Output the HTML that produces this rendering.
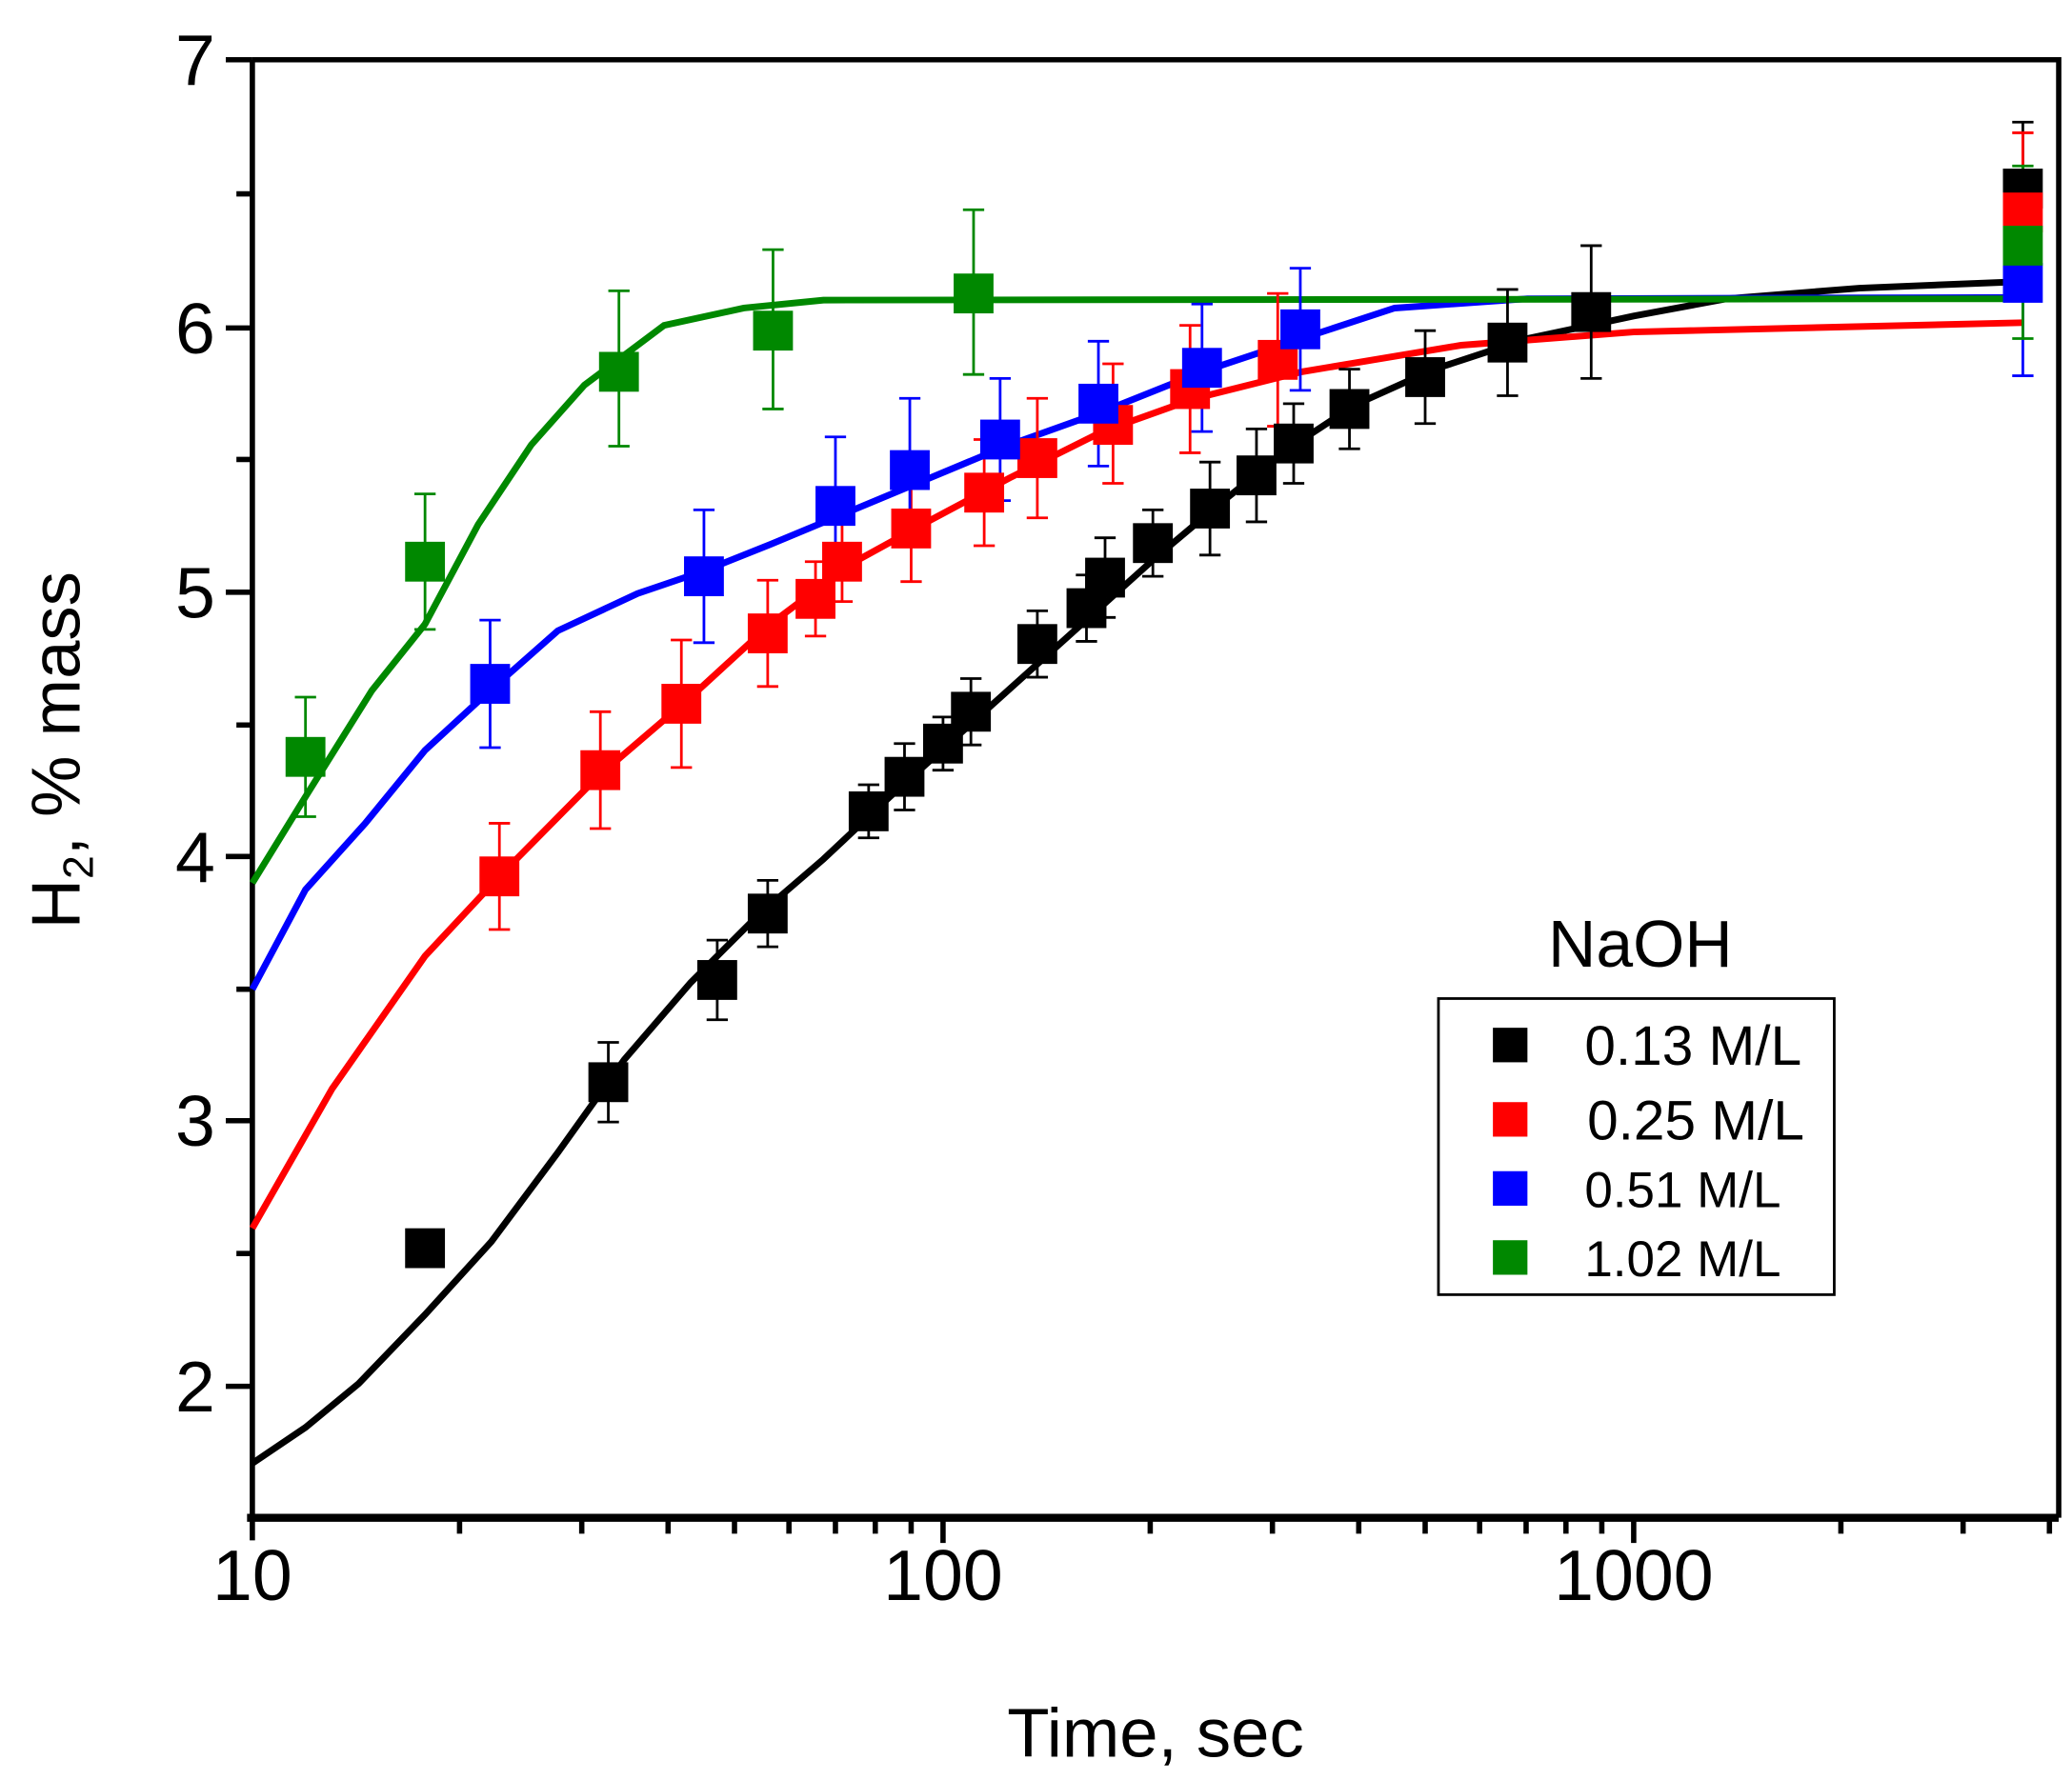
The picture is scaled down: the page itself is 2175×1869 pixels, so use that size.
<!DOCTYPE html>
<html><head><meta charset="utf-8"><style>html,body{margin:0;padding:0;background:#fff}svg{display:block}</style></head><body>
<svg width="2175" height="1869" viewBox="0 0 1560 1340.5" preserveAspectRatio="none" xmlns="http://www.w3.org/2000/svg" font-family="Liberation Sans, sans-serif">
<rect width="1560" height="1341" fill="#fff"/>
<g stroke="#000" stroke-width="4" fill="none">
<path d="M190,45 H1550 V1143 M190,45 V1160"/>
<path d="M186,1143 H1550" stroke-width="6"/>
<path d="M170,45H190M170,247H190M170,446H190M170,645H190M170,844H190M170,1044H190M178,146H190M178,346H190M178,546H190M178,745H190M178,944H190"/>
<path d="M710,1143V1162M1230,1143V1162"/>
<path d="M346,1143V1155M438,1143V1155M503,1143V1155M553,1143V1155M594,1143V1155M629,1143V1155M659,1143V1155M686,1143V1155"/>
<path transform="translate(520,0)" d="M346,1143V1155M438,1143V1155M503,1143V1155M553,1143V1155M594,1143V1155M629,1143V1155M659,1143V1155M686,1143V1155"/>
<path transform="translate(1040,0)" d="M346,1143V1155M438,1143V1155M503,1143V1155"/>
</g>
<g font-size="54" text-anchor="end">
<text x="162" y="64">7</text><text x="162" y="266">6</text><text x="162" y="465">5</text><text x="162" y="664">4</text><text x="162" y="863">3</text><text x="162" y="1063">2</text>
</g>
<g font-size="54" text-anchor="middle">
<text x="190" y="1205">10</text><text x="710" y="1205">100</text><text x="1230" y="1205">1000</text>
<text x="870" y="1323" font-size="52">Time, sec</text>
</g>
<text transform="translate(60,565) rotate(-90)" font-size="52" text-anchor="middle">H<tspan font-size="32" dy="10">2</tspan><tspan dy="-10">, % mass</tspan></text>
<g fill="none" stroke-width="5">
<polyline stroke="#000" points="190,1102 230,1075 270,1042 320,990 370,935 420,868 470,798 520,740 570,690 620,647 670,600 720,555 770,510 820,465 870,420 920,378 970,338 1020,305 1080,278 1150,255 1230,238 1300,225 1400,217 1523,212"/>
<polyline stroke="#f00" points="190,925 250,820 320,720 376,660 450,585 520,525 580,470 640,425 700,392 760,360 830,325 900,300 980,280 1100,260 1230,250 1523,243"/>
<polyline stroke="#00f" points="190,745 230,670 275,620 320,565 369,520 420,475 480,447 530,430 580,410 640,385 700,360 760,335 830,310 905,280 980,255 1050,232 1150,225 1523,224"/>
<polyline stroke="#080" points="190,665 230,600 280,520 320,470 360,395 400,335 440,290 500,245 560,232 620,226 1523,225"/>
</g>
<g fill="none" stroke-width="2">
<path stroke="#000" d="M320,927V953M312,927H328M312,953H328 M458,785V845M450,785H466M450,845H466 M540,708V768M532,708H548M532,768H548 M578,663V713M570,663H586M570,713H586 M654,591V631M646,591H662M646,631H662 M681,560V610M673,560H689M673,610H689 M710,540V580M702,540H718M702,580H718 M731,511V561M723,511H739M723,561H739 M781,460V510M773,460H789M773,510H789 M818,433V483M810,433H826M810,483H826 M832,405V465M824,405H840M824,465H840 M868,384V434M860,384H876M860,434H876 M911,348V418M903,348H919M903,418H919 M946,323V393M938,323H954M938,393H954 M974,304V364M966,304H982M966,364H982 M1016,278V338M1008,278H1024M1008,338H1024 M1073,249V319M1065,249H1081M1065,319H1081 M1135,218V298M1127,218H1143M1127,298H1143 M1198,185V285M1190,185H1206M1190,285H1206 M1523,92V192M1515,92H1531M1515,192H1531"/>
<path stroke="#f00" d="M376,620V700M368,620H384M368,700H384 M452,536V624M444,536H460M444,624H460 M513,482V578M505,482H521M505,578H521 M578,437V517M570,437H586M570,517H586 M614,423V479M606,423H622M606,479H622 M634,393V453M626,393H642M626,453H642 M686,358V438M678,358H694M678,438H694 M741,331V411M733,331H749M733,411H749 M781,300V390M773,300H789M773,390H789 M838,274V364M830,274H846M830,364H846 M896,245V341M888,245H904M888,341H904 M962,221V321M954,221H970M954,321H970 M1523,100V220M1515,100H1531M1515,220H1531"/>
<path stroke="#00f" d="M369,467V563M361,467H377M361,563H377 M530,384V484M522,384H538M522,484H538 M629,329V433M621,329H637M621,433H637 M685,300V408M677,300H693M677,408H693 M753,285V377M745,285H761M745,377H761 M827,257V351M819,257H835M819,351H835 M905,229V325M897,229H913M897,325H913 M979,202V294M971,202H987M971,294H987 M1523,150V283M1515,150H1531M1515,283H1531"/>
<path stroke="#080" d="M230,525V615M222,525H238M222,615H238 M320,372V474M312,372H328M312,474H328 M466,219V336M458,219H474M458,336H474 M582,188V308M574,188H590M574,308H590 M733,158V282M725,158H741M725,282H741 M1523,125V255M1515,125H1531M1515,255H1531"/>
</g>
<g fill="#000">
<rect x="305" y="925" width="30" height="30"/><rect x="443" y="800" width="30" height="30"/><rect x="525" y="723" width="30" height="30"/><rect x="563" y="673" width="30" height="30"/><rect x="639" y="596" width="30" height="30"/><rect x="666" y="570" width="30" height="30"/><rect x="695" y="545" width="30" height="30"/><rect x="716" y="521" width="30" height="30"/><rect x="766" y="470" width="30" height="30"/><rect x="803" y="443" width="30" height="30"/><rect x="817" y="420" width="30" height="30"/><rect x="853" y="394" width="30" height="30"/><rect x="896" y="368" width="30" height="30"/><rect x="931" y="343" width="30" height="30"/><rect x="959" y="319" width="30" height="30"/><rect x="1001" y="293" width="30" height="30"/><rect x="1058" y="269" width="30" height="30"/><rect x="1120" y="243" width="30" height="30"/><rect x="1183" y="220" width="30" height="30"/><rect x="1508" y="127" width="30" height="30"/>
</g>
<g fill="#f00">
<rect x="361" y="645" width="30" height="30"/><rect x="437" y="565" width="30" height="30"/><rect x="498" y="515" width="30" height="30"/><rect x="563" y="462" width="30" height="30"/><rect x="599" y="436" width="30" height="30"/><rect x="619" y="408" width="30" height="30"/><rect x="671" y="383" width="30" height="30"/><rect x="726" y="356" width="30" height="30"/><rect x="766" y="330" width="30" height="30"/><rect x="823" y="305" width="30" height="30"/><rect x="881" y="278" width="30" height="30"/><rect x="947" y="256" width="30" height="30"/><rect x="1508" y="145" width="30" height="30"/>
</g>
<g fill="#00f">
<rect x="354" y="500" width="30" height="30"/><rect x="515" y="419" width="30" height="30"/><rect x="614" y="366" width="30" height="30"/><rect x="670" y="339" width="30" height="30"/><rect x="738" y="316" width="30" height="30"/><rect x="812" y="289" width="30" height="30"/><rect x="890" y="262" width="30" height="30"/><rect x="964" y="233" width="30" height="30"/><rect x="1508" y="198" width="30" height="30"/>
</g>
<g fill="#080">
<rect x="215" y="555" width="30" height="30"/><rect x="305" y="408" width="30" height="30"/><rect x="451" y="265" width="30" height="30"/><rect x="567" y="234" width="30" height="30"/><rect x="718" y="206" width="30" height="30"/><rect x="1508" y="170" width="30" height="30"/>
</g>
<text x="1235" y="728" font-size="50" text-anchor="middle">NaOH</text>
<rect x="1083" y="752" width="298" height="223" fill="#fff" stroke="#000" stroke-width="2"/>
<rect x="1124" y="774" width="26" height="26" fill="#000"/>
<rect x="1124" y="830" width="26" height="26" fill="#f00"/>
<rect x="1124" y="882" width="26" height="26" fill="#00f"/>
<rect x="1124" y="934" width="26" height="26" fill="#080"/>
<g font-size="42">
<text x="1193" y="802">0.13 M/L</text>
<text x="1195" y="858">0.25 M/L</text>
<text x="1193" y="909" font-size="38">0.51 M/L</text>
<text x="1193" y="961" font-size="38">1.02 M/L</text>
</g>
</svg>
</body></html>
